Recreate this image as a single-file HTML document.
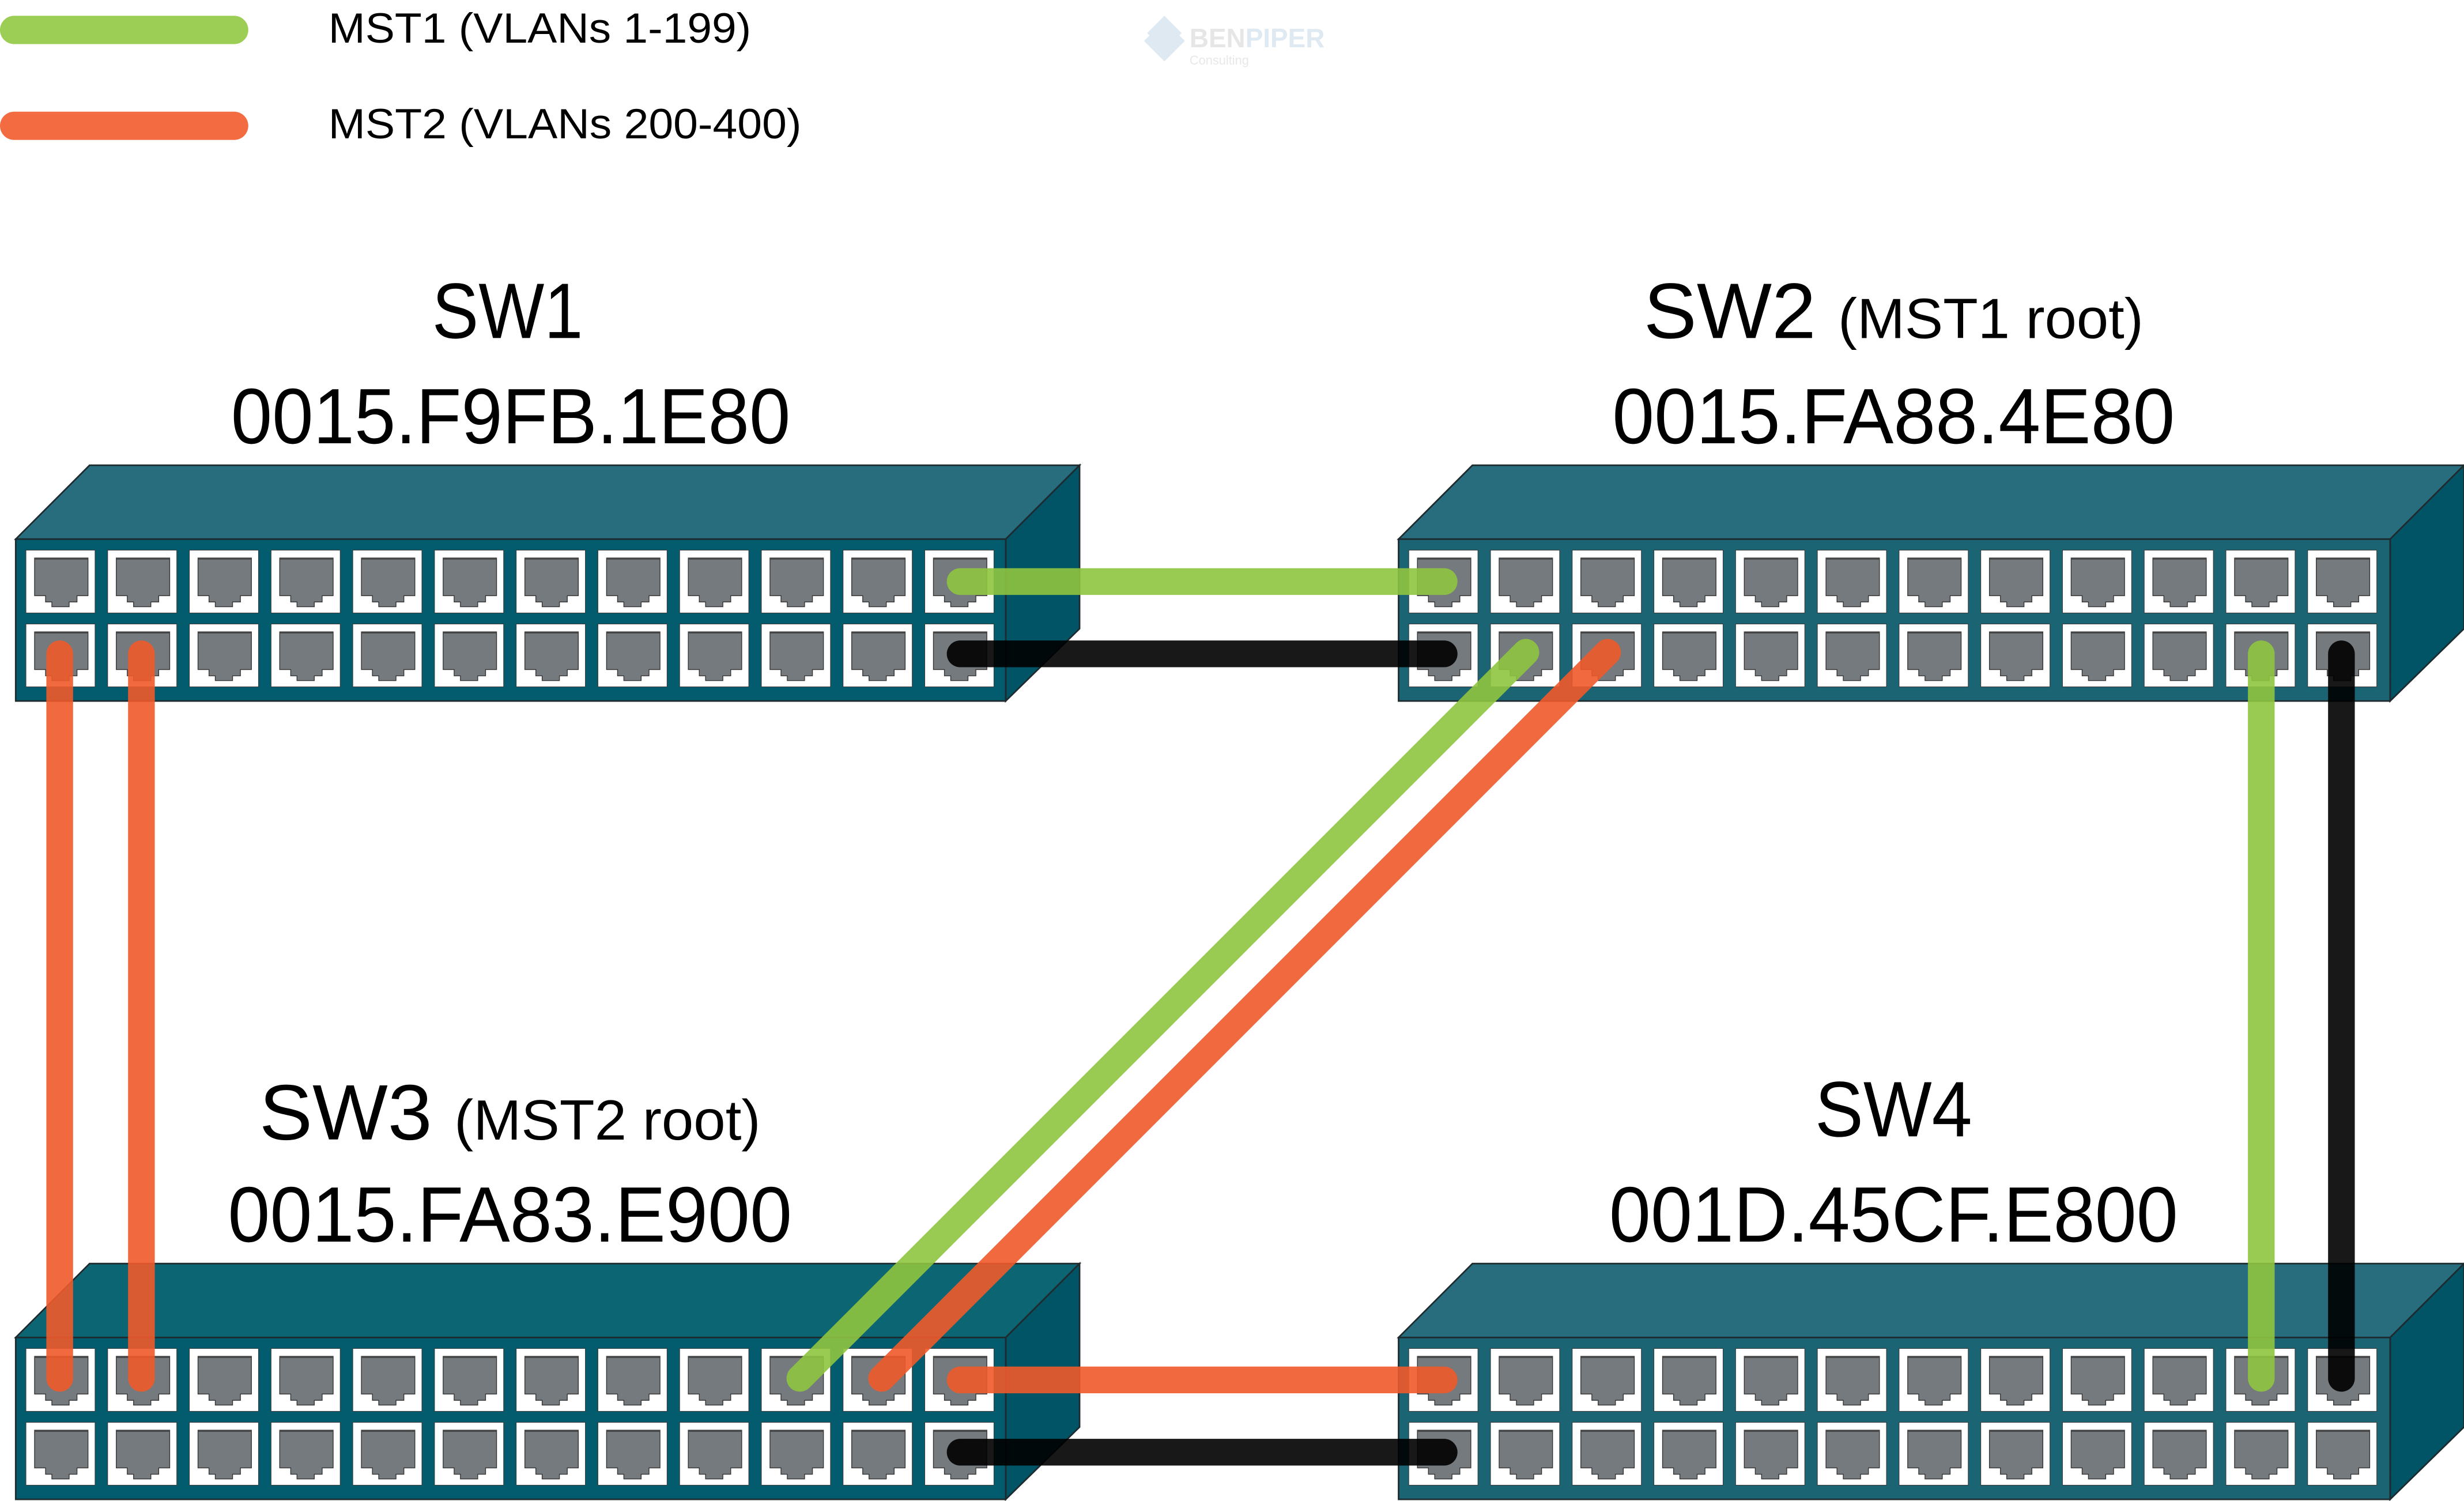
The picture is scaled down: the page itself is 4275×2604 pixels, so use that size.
<!DOCTYPE html>
<html><head><meta charset="utf-8"><style>html,body{margin:0;padding:0;background:#fff}svg{display:block}</style></head>
<body>
<svg xmlns="http://www.w3.org/2000/svg" xmlns:xlink="http://www.w3.org/1999/xlink" width="4275" height="2604" viewBox="0 0 1568 955">
<defs>
<g id="p">
<rect x="0" y="0" width="44" height="40" fill="#fff" stroke="#3a3a3a" stroke-width="0.4"/>
<path d="M5.5 5 H39.5 V29 H32.5 V33 H27.5 V36 H16.5 V33 H12.5 V29 H5.5 Z" fill="#757a7e" stroke="#333" stroke-width="0.5"/>
<rect x="5.5" y="5" width="34" height="1" fill="#444"/>
</g>
<g id="row">
<use xlink:href="#p" x="16.5"/><use xlink:href="#p" x="68.5"/><use xlink:href="#p" x="120.5"/><use xlink:href="#p" x="172.5"/>
<use xlink:href="#p" x="224.5"/><use xlink:href="#p" x="276.5"/><use xlink:href="#p" x="328.5"/><use xlink:href="#p" x="380.5"/>
<use xlink:href="#p" x="432.5"/><use xlink:href="#p" x="484.5"/><use xlink:href="#p" x="536.5"/><use xlink:href="#p" x="588.5"/>
</g>
</defs>
<rect width="1568" height="955" fill="#fff"/>

<!-- logo -->
<g opacity="0.9">
<path d="M741 10 L752 21 L741 32 L730 21 Z" fill="#dbe7f1"/>
<path d="M728 26 L741 39 L754 26 L750 22 L741 31 L732 22 Z" fill="#dbe7f1"/>
<text x="757" y="30" font-family="Liberation Sans, sans-serif" font-size="17" font-weight="bold" fill="#e4e4e4" textLength="86" lengthAdjust="spacingAndGlyphs">BEN<tspan fill="#dbe7f1">PIPER</tspan></text>
<text x="757" y="41" font-family="Liberation Sans, sans-serif" font-size="8" fill="#e6e6e6">Consulting</text>
</g>

<!-- legend -->
<line x1="9" y1="19" x2="149" y2="19" stroke="#9ccd55" stroke-width="18" stroke-linecap="round"/>
<line x1="9" y1="80" x2="149" y2="80" stroke="#f26b41" stroke-width="18" stroke-linecap="round"/>
<g font-family="Liberation Sans, sans-serif" fill="#000">
<text x="209" y="27" font-size="27" textLength="269" lengthAdjust="spacingAndGlyphs">MST1 (VLANs 1-199)</text>
<text x="209" y="88" font-size="27" textLength="301" lengthAdjust="spacingAndGlyphs">MST2 (VLANs 200-400)</text>

<text x="275" y="215" font-size="50" textLength="96" lengthAdjust="spacingAndGlyphs">SW1</text>
<text x="147" y="282" font-size="50" textLength="356" lengthAdjust="spacingAndGlyphs">0015.F9FB.1E80</text>
<text x="1046" y="215" font-size="50" textLength="318" lengthAdjust="spacingAndGlyphs">SW2 <tspan font-size="36">(MST1 root)</tspan></text>
<text x="1026" y="282" font-size="50" textLength="358" lengthAdjust="spacingAndGlyphs">0015.FA88.4E80</text>
<text x="165" y="725" font-size="50" textLength="319" lengthAdjust="spacingAndGlyphs">SW3 <tspan font-size="36">(MST2 root)</tspan></text>
<text x="145" y="790" font-size="50" textLength="359" lengthAdjust="spacingAndGlyphs">0015.FA83.E900</text>
<text x="1155" y="723" font-size="50" textLength="100" lengthAdjust="spacingAndGlyphs">SW4</text>
<text x="1024" y="790" font-size="50" textLength="362" lengthAdjust="spacingAndGlyphs">001D.45CF.E800</text>
</g>

<!-- switches -->
<g stroke="#1e2a2e" stroke-width="1">
<!-- SW1 -->
<g transform="translate(0,0)">
<path d="M10 343 L57 296 L687 296 L640 343 Z" fill="#276d7e"/>
<path d="M640 343 L687 296 L687 400 L640 446 Z" fill="#015466"/>
<rect x="10" y="343" width="630" height="103" fill="#035c6e"/>
</g>
<!-- SW2 -->
<path d="M890 343 L937 296 L1568 296 L1521 343 Z" fill="#276d7e"/>
<path d="M1521 343 L1568 296 L1568 400 L1521 446 Z" fill="#015466"/>
<rect x="890" y="343" width="631" height="103" fill="#1b6474"/>
<!-- SW3 -->
<path d="M10 851 L57 804 L687 804 L640 851 Z" fill="#0c6573"/>
<path d="M640 851 L687 804 L687 908 L640 954 Z" fill="#015466"/>
<rect x="10" y="851" width="630" height="103" fill="#035c6e"/>
<!-- SW4 -->
<path d="M890 851 L937 804 L1568 804 L1521 851 Z" fill="#276d7e"/>
<path d="M1521 851 L1568 804 L1568 908 L1521 954 Z" fill="#015466"/>
<rect x="890" y="851" width="631" height="103" fill="#1b6474"/>
</g>
<use xlink:href="#row" x="0" y="350"/><use xlink:href="#row" x="0" y="397"/>
<use xlink:href="#row" x="880" y="350"/><use xlink:href="#row" x="880" y="397"/>
<use xlink:href="#row" x="0" y="858"/><use xlink:href="#row" x="0" y="905"/>
<use xlink:href="#row" x="880" y="858"/><use xlink:href="#row" x="880" y="905"/>

<!-- cables -->
<g stroke-width="17" stroke-linecap="round" opacity="0.9">
<line x1="611" y1="370" x2="919" y2="370" stroke="#8fc540"/>
<line x1="611" y1="416" x2="919" y2="416" stroke="#000"/>
<line x1="38" y1="416" x2="38" y2="877" stroke="#f05a2b"/>
<line x1="90" y1="416" x2="90" y2="877" stroke="#f05a2b"/>
<line x1="971" y1="415" x2="509" y2="877" stroke="#8fc540"/>
<line x1="1023" y1="415" x2="561" y2="877" stroke="#f05a2b"/>
<line x1="1439" y1="416" x2="1439" y2="877" stroke="#8fc540"/>
<line x1="1490" y1="416" x2="1490" y2="877" stroke="#000"/>
<line x1="611" y1="878" x2="919" y2="878" stroke="#f05a2b"/>
<line x1="611" y1="924" x2="919" y2="924" stroke="#000"/>
</g>
</svg>
</body></html>
